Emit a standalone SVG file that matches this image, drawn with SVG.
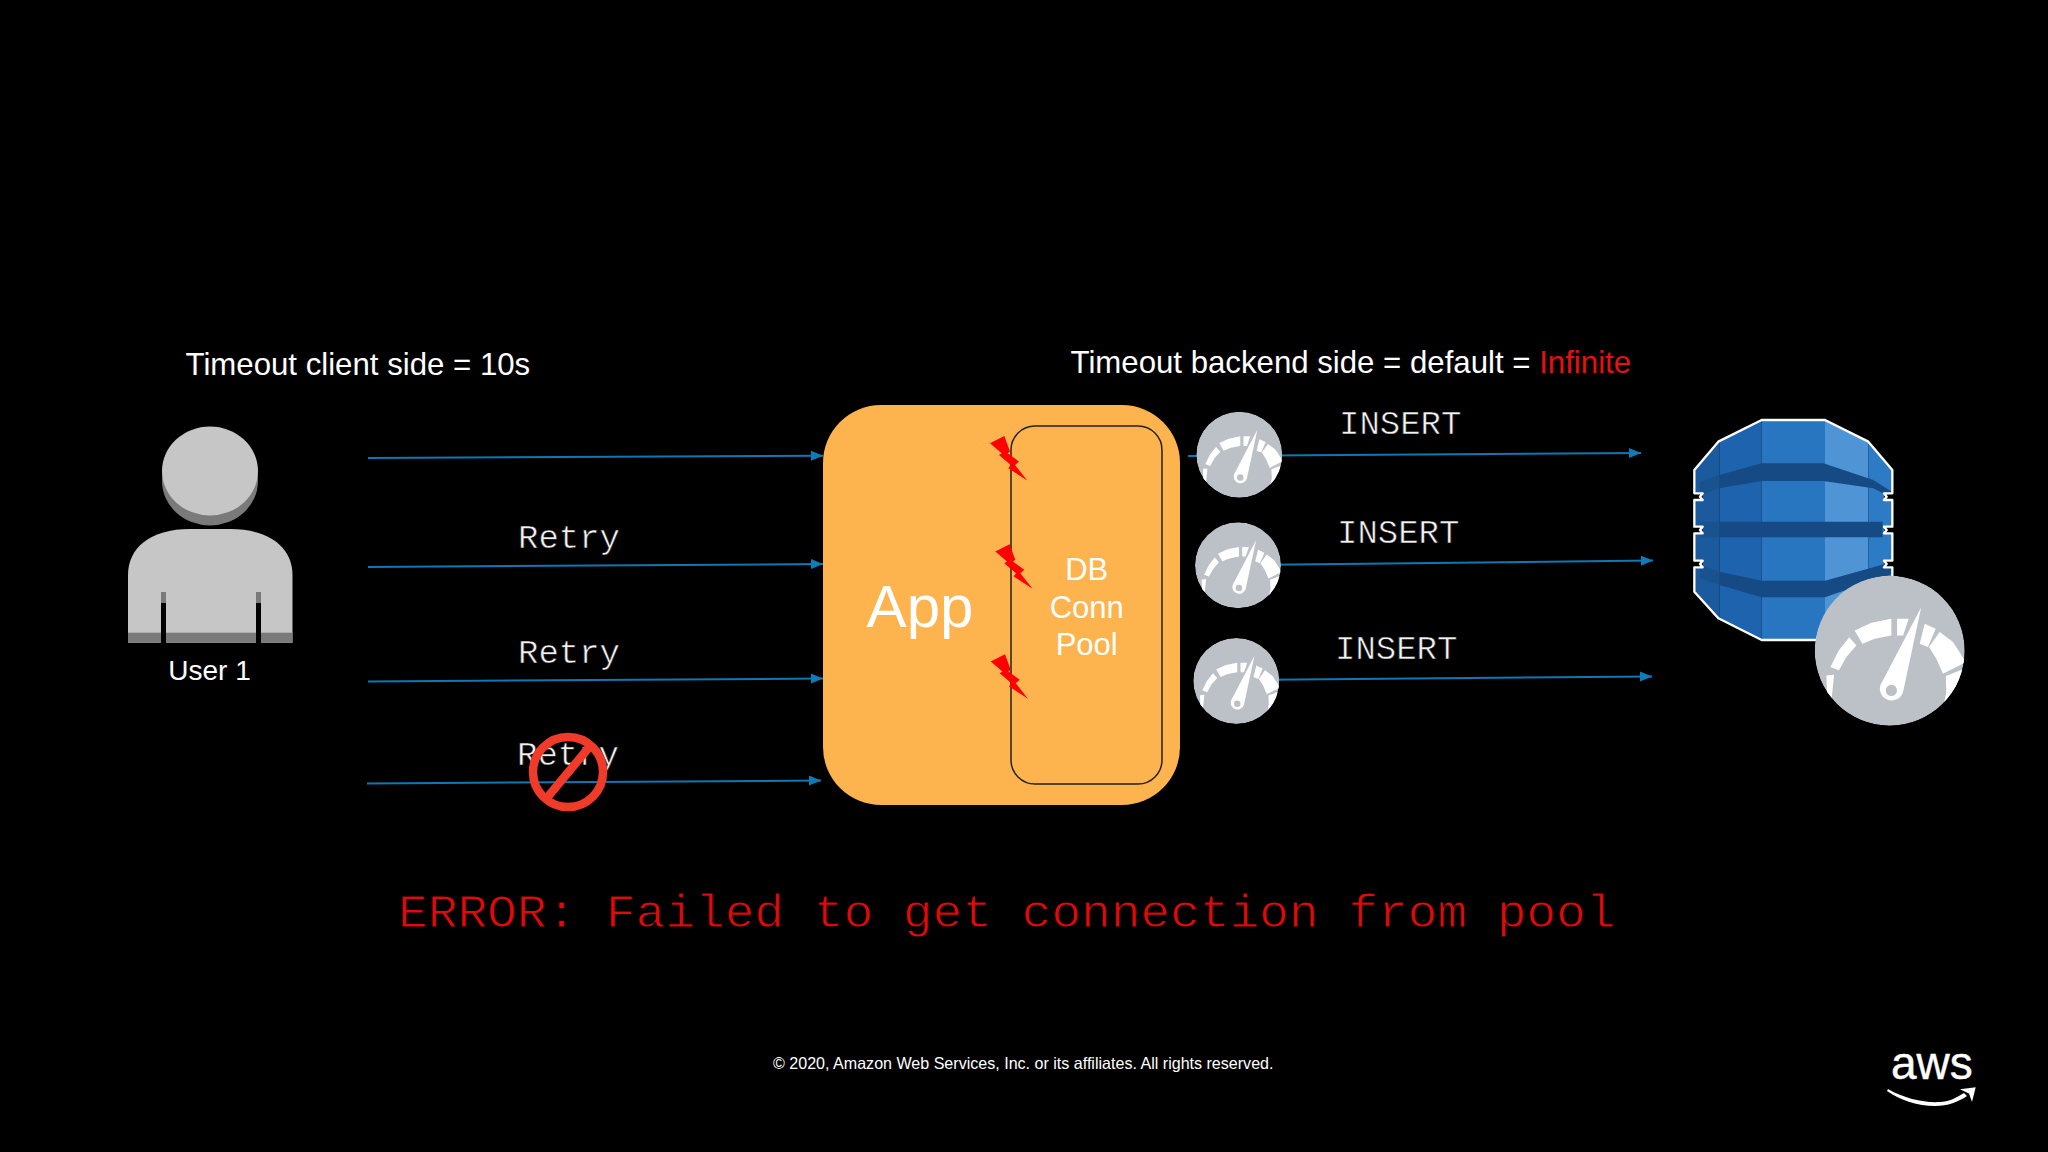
<svg xmlns="http://www.w3.org/2000/svg" xmlns:xlink="http://www.w3.org/1999/xlink" width="2048" height="1152" viewBox="0 0 2048 1152">
<defs>
<style>
.s{font-family:"Liberation Sans",Arial,sans-serif;fill:#fff}
.m{font-family:"Liberation Mono","Courier New",monospace;fill:#f2f2f2;font-size:34px;stroke:#000;stroke-width:.6px}
.e{font-family:"Liberation Mono","Courier New",monospace;fill:#e00a0a;font-size:49.5px;stroke:#000;stroke-width:1px}
.c{fill:none;stroke:#0f78b4;stroke-width:2;marker-end:url(#arrow)}
.w{fill:#fff}
</style>
<marker id="arrow" markerUnits="userSpaceOnUse" markerWidth="14" markerHeight="12" refX="12" refY="6" orient="auto"><path d="M0 1L12 6L0 11Z" fill="#0f7cba"/></marker>
<clipPath id="gclip"><circle r="100"/></clipPath>
<g id="gauge" clip-path="url(#gclip)">
<circle r="100" fill="#bcc1c7"/>
<path class="w" d="M-84.400 32.900L-74.200 32L-77.300 63L-83.600 56Z"/>
<path class="w" d="M-79 21.800L-68 -.4L-54 -18L-44.400 -7L-57.800 8.400L-67.600 26.200Z"/>
<path class="w" d="M-46.700 -27L-24.400 -37.300L2.200 -42.700L2.200 -20.400L-20 -16L-36.400 -9.300Z"/>
<path class="w" d="M9.800 -42.700L25.300 -42.700L17.800 -20.400L9.800 -20.400Z"/>
<path class="w" d="M46.700 -36L61.300 -29.300L51.100 -4.900L40 -9.300Z"/>
<path class="w" d="M66.700 -24.900L84.400 -11.600L98.700 10.700L100 16L71 30.700L62.200 10.700L52.400 -4.900Z"/>
<path class="w" d="M74.700 33.800L102 23L102 46L71 77L75.500 55Z"/>
<path class="w" d="M42 -58L17.800 55A15.500 15.500 0 1 1 -12.400 46Z"/>
<circle cx="2.200" cy="53" r="7.500" fill="#bcc1c7"/>
</g>
<path id="bolt" fill="#fe0000" d="M0 0L14.300 -7.300L20 8.300L17.700 10L29 18.300L25 21.700L37.300 37.300L18.300 25L20.700 21.700L9 11.700L11.700 10Z"/>
<clipPath id="dbclip"><path d="M305 60L495 60L625 125L697 210L697 280L672 280L672 300L697 300L697 380L672 380L672 400L697 400L697 482L672 482L672 502L697 502L697 575L625 655L495 720L305 720L175 655L103 575L103 502L128 502L128 482L103 482L103 400L128 400L128 380L103 380L103 300L128 300L128 280L103 280L103 210L175 125Z"/></clipPath>
</defs>
<rect width="2048" height="1152" fill="#000"/>

<g id="connectors">
<path class="c" d="M368 458L823 455.700"/>
<path class="c" d="M368 567L823 564"/>
<path class="c" d="M368 681.500L823 678.500"/>
<path class="c" d="M367 783.500L821 780.500"/>
<path class="c" d="M1188 456L1641 453"/>
<path class="c" d="M1240 565L1653 560.500"/>
<path class="c" d="M1240 680L1652 676.500"/>
</g>

<g id="user">
<ellipse cx="210" cy="481" rx="48" ry="44.500" fill="#7a7a7a"/>
<ellipse cx="210" cy="471" rx="48" ry="44.500" fill="#c6c6c6"/>
<path d="M128 642.700V575C128 548 150 529 190 529H230C270 529 292.500 548 292.500 575V642.700Z" fill="#c6c6c6"/>
<rect x="128" y="632.700" width="164.500" height="10" fill="#7a7a7a"/>
<rect x="161" y="592" width="5" height="11" fill="#7a7a7a"/>
<rect x="256" y="592" width="5" height="11" fill="#7a7a7a"/>
<rect x="161" y="603" width="5" height="40" fill="#000"/>
<rect x="256" y="603" width="5" height="40" fill="#000"/>
<text class="s" x="209.500" y="680" font-size="28" text-anchor="middle">User 1</text>
</g>

<text class="s" x="185.500" y="374.500" font-size="31.200">Timeout client side = 10s</text>
<text class="s" x="1070.500" y="372.500" font-size="31.200">Timeout backend side = default = <tspan fill="#e81010">Infinite</tspan></text>

<text class="m" transform="translate(518 548) scale(1 .95)">Retry</text>
<text class="m" transform="translate(518 662.500) scale(1 .95)">Retry</text>
<text class="m" transform="translate(517 765) scale(1 .95)">Retry</text>

<g id="no-sign">
<circle cx="568" cy="772" r="35" fill="none" stroke="#f03a2a" stroke-width="8.500"/>
<path d="M546 799L591 745" stroke="#f03a2a" stroke-width="8.500" fill="none"/>
</g>

<g id="app">
<rect x="823" y="405" width="357" height="400" rx="58" fill="#fdb44e"/>
<text class="s" x="920" y="627" font-size="60" text-anchor="middle">App</text>
</g>

<g id="pool">
<rect x="1011" y="426" width="151" height="358" rx="24" fill="none" stroke="#222" stroke-width="1.500"/>
<text class="s" x="1086.700" y="580" font-size="31" text-anchor="middle">DB</text>
<text class="s" x="1086.700" y="617.500" font-size="31" text-anchor="middle">Conn</text>
<text class="s" x="1086.700" y="655" font-size="31" text-anchor="middle">Pool</text>
</g>

<g id="bolts">
<use xlink:href="#bolt" href="#bolt" transform="translate(990 443.300)"/>
<use xlink:href="#bolt" href="#bolt" transform="translate(995.300 551.500)"/>
<use xlink:href="#bolt" href="#bolt" transform="translate(990.700 661.500)"/>
</g>

<g id="gauge1"><use xlink:href="#gauge" href="#gauge" transform="translate(1239.300 454.700) scale(.43)"/></g>
<g id="gauge2"><use xlink:href="#gauge" href="#gauge" transform="translate(1238 565.300) scale(.43)"/></g>
<g id="gauge3"><use xlink:href="#gauge" href="#gauge" transform="translate(1236.300 681) scale(.43)"/></g>

<text class="m" transform="translate(1339 433.500) scale(1 .95)">INSERT</text>
<text class="m" transform="translate(1337 542.500) scale(1 .95)">INSERT</text>
<text class="m" transform="translate(1335 658.500) scale(1 .95)">INSERT</text>

<g id="database" transform="translate(1660 400) scale(.33333)">
<g clip-path="url(#dbclip)">
<rect x="100" y="50" width="78" height="680" fill="#1b5a9d"/>
<rect x="178" y="50" width="127" height="680" fill="#1d63ae"/>
<rect x="305" y="50" width="190" height="680" fill="#2875c0"/>
<rect x="495" y="50" width="130" height="680" fill="#4f95d6"/>
<rect x="625" y="50" width="80" height="680" fill="#2d7bc4"/>
<path fill="#18528f" d="M120 245L178 225V265L120 285Z"/>
<path fill="#18528f" d="M120 365H178V412H120Z"/>
<path fill="#18528f" d="M120 495L178 515V555L120 535Z"/>
<path fill="#154a85" d="M178 225L305 190H490L640 240L700 278V296L640 265L490 243H305L178 265Z"/>
<path fill="#154a85" d="M178 365H668V412H178Z"/>
<path fill="#154a85" d="M178 515L305 542H495L700 485V520L495 592H305L178 555Z"/>
</g>
<path fill="none" stroke="#fff" stroke-width="7" stroke-linejoin="round" d="M305 60L495 60L625 125L697 210L697 280L672 280L680 290L672 300L697 300L697 380L672 380L680 390L672 400L697 400L697 482L672 482L680 492L672 502L697 502L697 575L625 655L495 720L305 720L175 655L103 575L103 502L128 502L120 492L128 482L103 482L103 400L128 400L120 390L128 380L103 380L103 300L128 300L120 290L128 280L103 280L103 210L175 125Z"/>
</g>
<g id="gauge-main"><use xlink:href="#gauge" href="#gauge" transform="translate(1889.700 650.700) scale(.75)"/></g>

<text class="e" transform="translate(398 927) scale(1 .93)">ERROR: Failed to get connection from pool</text>
<text class="s" x="773" y="1069" font-size="16.070">© 2020, Amazon Web Services, Inc. or its affiliates. All rights reserved.</text>

<g id="aws-logo">
<text class="s" x="1891" y="1079" font-size="46" stroke="#fff" stroke-width=".4">aws</text>
<path fill="#fff" d="M1888 1089C1905 1099 1925 1103 1940 1102C1948 1102 1956 1098 1964 1093L1967 1096C1958 1102 1948 1106 1935 1106C1918 1106 1900 1100 1887 1091Z"/>
<path fill="#fff" d="M1960 1089.300L1975.700 1087.300L1972 1102L1969 1093.500Z"/>
</g>
</svg>
